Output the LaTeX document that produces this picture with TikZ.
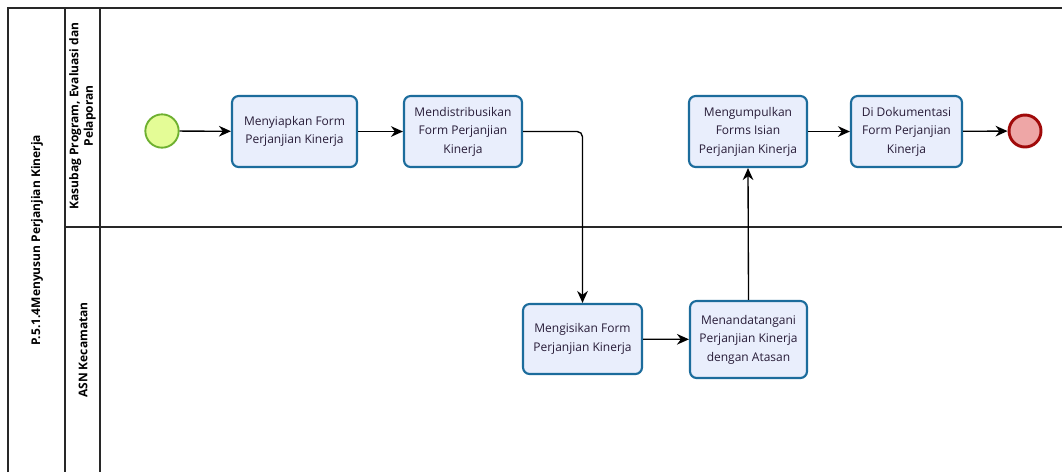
\documentclass[tikz,border=0pt]{standalone}
\usepackage{fontspec}
\setmainfont{Open Sans}
\usetikzlibrary{arrows.meta}
\definecolor{taskfill}{RGB}{233,238,252}
\definecolor{taskline}{RGB}{28,108,156}
\definecolor{txt}{RGB}{40,28,56}
\definecolor{startfill}{RGB}{228,252,150}
\definecolor{startline}{RGB}{110,176,48}
\definecolor{endfill}{RGB}{238,166,166}
\definecolor{endline}{RGB}{160,10,10}
\definecolor{pool}{RGB}{40,40,40}
\tikzset{
  task/.style={rectangle, rounded corners=5pt, draw=taskline, fill=taskfill,
    line width=1.6pt, minimum width=88.5pt, minimum height=53.25pt,
    align=center, font=\fontsize{9}{13.8}\selectfont, text=txt, inner sep=1pt},
  startev/.style={circle, draw=startline, fill=startfill, line width=1.4pt,
    minimum size=25pt, inner sep=0},
  endev/.style={circle, draw=endline, fill=endfill, line width=2.2pt,
    minimum size=24pt, inner sep=0},
  flow/.style={line width=1pt, -{Stealth[length=9pt,width=8pt]}},
  lanelabel/.style={rotate=90, align=center, font=\bfseries\fontsize{9}{11}\selectfont},
  poolline/.style={draw=pool, line width=1.2pt}
}
\begin{document}
\begin{tikzpicture}[x=0.75pt,y=-0.75pt]
\useasboundingbox (0,0) rectangle (1062,472);
\fill[white] (0,0) rectangle (1062,472);

% pool and lanes
\draw[poolline] (8,472) -- (8,8) -- (1062,8);
\draw[poolline] (65,8) -- (65,472);
\draw[poolline] (100,8) -- (100,472);
\draw[poolline] (65,227) -- (1062,227);

\node[lanelabel] (pooltitle) at (37,240) {P.5.1.4Menyusun Perjanjian Kinerja};
\node[lanelabel] (lane1) at (82.5,116) {Kasubag Program, Evaluasi dan\\Pelaporan};
\node[lanelabel] (lane2) at (83,350) {ASN Kecamatan};

% events and tasks
\node[startev] (start) at (162,131) {};
\node[task, minimum width=93.75pt] (t1) at (294.5,131.5) {Menyiapkan Form\\Perjanjian Kinerja};
\node[task] (t2) at (463,131.5) {Mendistribusikan\\Form Perjanjian\\Kinerja};
\node[task] (t3) at (748,131.5) {Mengumpulkan\\Forms Isian\\Perjanjian Kinerja};
\node[task, minimum width=83.25pt] (t4) at (906.5,131.5) {Di Dokumentasi\\Form Perjanjian\\Kinerja};
\node[endev] (end) at (1025,131) {};
\node[task, minimum width=89.25pt, minimum height=52.5pt] (t5) at (582.5,339) {Mengisikan Form\\Perjanjian Kinerja};
\node[task, minimum width=87.75pt, minimum height=57.75pt] (t6) at (748.5,339.5) {Menandatangani\\Perjanjian Kinerja\\dengan Atasan};

% sequence flows
\draw[flow] (start) -- (t1);
\draw[flow] (t1) -- (t2);
\draw[flow, rounded corners=4pt] (t2.east) -| (t5.north);
\draw[flow] (t5) -- (t6);
\draw[flow] (t6.north) -- (t3.south);
\draw[flow] (t3) -- (t4);
\draw[flow] (t4) -- (end);
\end{tikzpicture}
\end{document}
